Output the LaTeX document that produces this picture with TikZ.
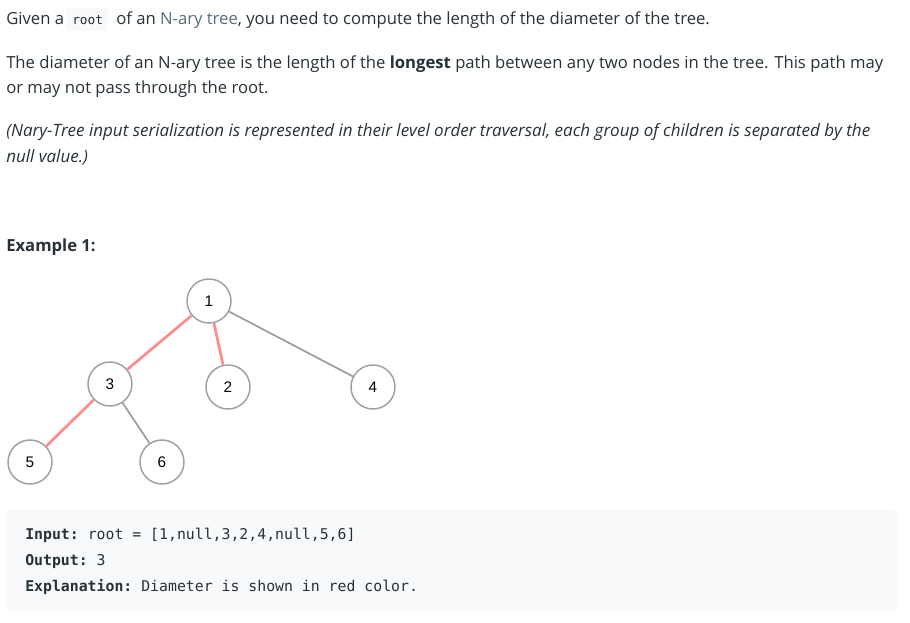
\documentclass[tikz,border=0pt]{standalone}
\usepackage{fontspec}
\setmainfont{Open Sans}
\setmonofont{DejaVu Sans Mono}
\newfontfamily\numfont{Liberation Sans}
\definecolor{txt}{HTML}{263238}
\definecolor{lnk}{HTML}{546E7A}
\definecolor{codebg}{HTML}{F7F9FA}
\definecolor{redge}{HTML}{FF8A8A}
\definecolor{gedge}{HTML}{9E9E9E}
\definecolor{ring}{HTML}{A0A0A0}
\begin{document}
\begin{tikzpicture}[x=0.75pt,y=-0.75pt,
  para/.style={anchor=base west,inner sep=0pt,font=\fontsize{12.5}{15}\selectfont,text=txt},
  itpara/.style={para,font=\itshape\fontsize{12.75}{15}\selectfont},
  code/.style={anchor=base west,inner sep=0pt,font=\ttfamily\fontsize{11.12}{13}\selectfont,text=txt},
  tnode/.style={circle,draw=ring,line width=1.1pt,fill=white,minimum size=33pt,inner sep=0pt,font=\numfont\fontsize{11.5}{13}\selectfont,text=black},
  redline/.style={draw=redge,line width=2pt},
  grayline/.style={draw=gedge,line width=1.3pt}]
\useasboundingbox (0,0) rectangle (910,623);
\fill[white] (0,0) rectangle (910,623);
% inline code box
\fill[codebg,rounded corners=2pt] (66,8) rectangle (108,31);
\node[para] (l1a) at (6,25) {Given a};
\node[code,font=\ttfamily\fontsize{9.6}{11}\selectfont] (rt) at (72,25) {root};
\node[para] (l1b) at (116,25) {of an \textcolor{lnk}{N-ary tree}, you need to compute the length of the diameter of the tree.};
\node[para] (l2) at (6,69) {The diameter of an N-ary tree is the length of the \textbf{longest} path between any two nodes in the tree. This path may};
\node[para] (l3) at (6,94) {or may not pass through the root.};
\node[itpara] (l4) at (6,137) {(Nary-Tree input serialization is represented in their level order traversal, each group of children is separated by the};
\node[itpara] (l5) at (6,163) {null value.)};
\node[para,font=\bfseries\fontsize{12.5}{15}\selectfont] (ex) at (6,252) {Example 1:};
% tree
\node[tnode] (n1) at (209,301) {1};
\node[tnode] (n3) at (110,384) {3};
\node[tnode] (n2) at (228,387) {2};
\node[tnode] (n4) at (373,387) {4};
\node[tnode] (n5) at (30,462) {5};
\node[tnode] (n6) at (162,462) {6};
\path[redline] (n1) -- (n3);
\path[redline] (n1) -- (n2);
\path[grayline] (n1) -- (n4);
\path[redline] (n3) -- (n5);
\path[grayline] (n3) -- (n6);
% code block
\fill[codebg,rounded corners=3pt] (6,509) rectangle (897,611);
\node[code] (c1) at (25,539) {\textbf{Input:} root = [1,null,3,2,4,null,5,6]};
\node[code] (c2) at (25,565) {\textbf{Output:} 3};
\node[code] (c3) at (25,591) {\textbf{Explanation:} Diameter is shown in red color.};
\end{tikzpicture}
\end{document}
